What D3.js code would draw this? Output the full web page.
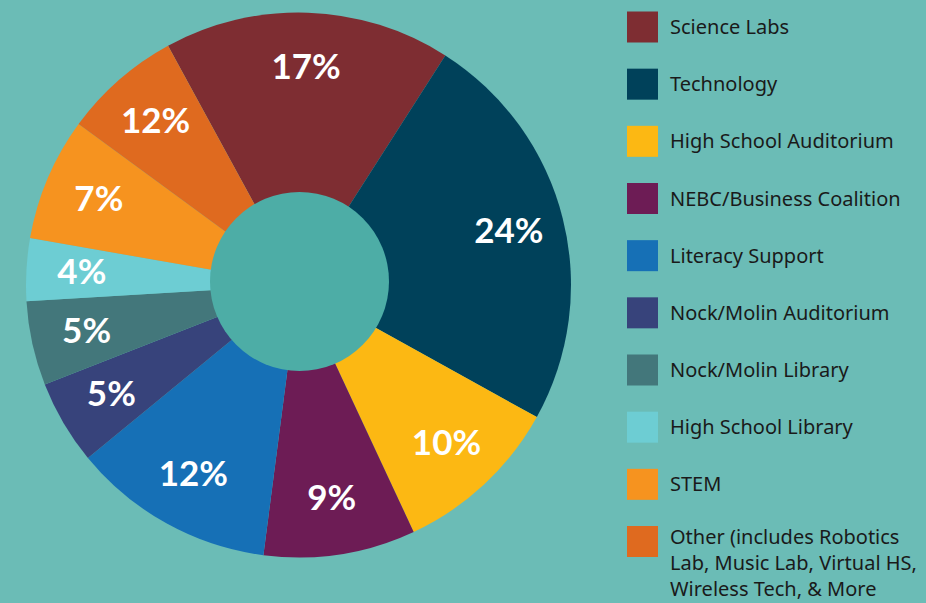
<!DOCTYPE html>
<html>
<head>
<meta charset="utf-8">
<script src="https://cdn.jsdelivr.net/npm/d3@7"></script>
<style>
  html, body { margin:0; padding:0; background:#6bbcb6; }
  svg { display:block; }
  .pct { font-family: Lato, "Open Sans", sans-serif; font-weight:700; fill:#fff; }
  .legend-styling { font-family: "Noto Sans", Lato, sans-serif; fill:#1a1a1a; }
</style>
</head>
<body>
<div id="chart"></div>
<script>
const width = 926;
const height = 603;

// slices clockwise from the top-left
const categories = ['Science Labs', 'Technology', 'High School Auditorium', 'NEBC/Business Coalition',
  'Literacy Support', 'Nock/Molin Auditorium', 'Nock/Molin Library', 'High School Library', 'STEM',
  'Other (includes Robotics|Lab, Music Lab, Virtual HS,|Wireless Tech, & More']
// share of the circle as drawn
const values = [17, 24, 10, 9, 12, 5, 5, 3.7, 7.3, 7]
// printed labels
const labels = ['17%', '24%', '10%', '9%', '12%', '5%', '5%', '4%', '7%', '12%']
const colors = ['#7e2d32', '#00415a', '#fcb813', '#6d1c55', '#1670b6', '#37437b', '#43777b', '#6dcdd3', '#f6931f', '#df6a1f']

const cx = 298.5, cy = 285, outerR = 272.5
const startAngle = -28.6 * Math.PI / 180

const svg = d3.select('#chart')
  .append('svg')
  .attr('width', width)
  .attr('height', height)

svg.append('rect').attr('width', width).attr('height', height).attr('fill', '#6bbcb6')

const pie = d3.pie().sort(null).value(d => d)
  .startAngle(startAngle).endAngle(startAngle + 2 * Math.PI)
const arcs = pie(values)

const arc = d3.arc().innerRadius(0).outerRadius(outerR)
const labelArc = d3.arc().innerRadius(217).outerRadius(217)

const g = svg.append('g').attr('transform', `translate(${cx},${cy})`)

g.selectAll('path')
  .data(arcs)
  .enter()
  .append('path')
  .attr('d', arc)
  .attr('fill', (d, i) => colors[i])

// centre disc
svg.append('circle')
  .attr('cx', 299.5)
  .attr('cy', 281.5)
  .attr('r', 89.5)
  .attr('fill', '#4dada6')

g.selectAll('.pct')
  .data(arcs)
  .enter()
  .append('text')
  .attr('class', 'pct')
  .attr('x', d => labelArc.centroid(d)[0])
  .attr('y', d => labelArc.centroid(d)[1] + 11)
  .attr('text-anchor', 'middle')
  .attr('font-size', 35)
  .text((d, i) => labels[i])

// legend
const ly = d3.scalePoint().domain(categories).range([27, 541.5])

const legend = svg.append('g')
const items = legend.selectAll('g')
  .data(categories)
  .enter()
  .append('g')
  .attr('transform', d => `translate(627,${ly(d)})`)

items.append('rect')
  .attr('x', 0)
  .attr('y', -15.5)
  .attr('width', 31)
  .attr('height', 31)
  .attr('fill', (d, i) => colors[i])

items.append('text')
  .attr('class', 'legend-styling')
  .attr('font-size', 20)
  .each(function(d) {
    const lines = d.split('|')
    d3.select(this).selectAll('tspan')
      .data(lines)
      .enter()
      .append('tspan')
      .attr('x', 43)
      .attr('y', (l, j) => lines.length > 1 ? j * 26 + 2 : 7)
      .text(l => l)
  })
</script>
</body>
</html>
